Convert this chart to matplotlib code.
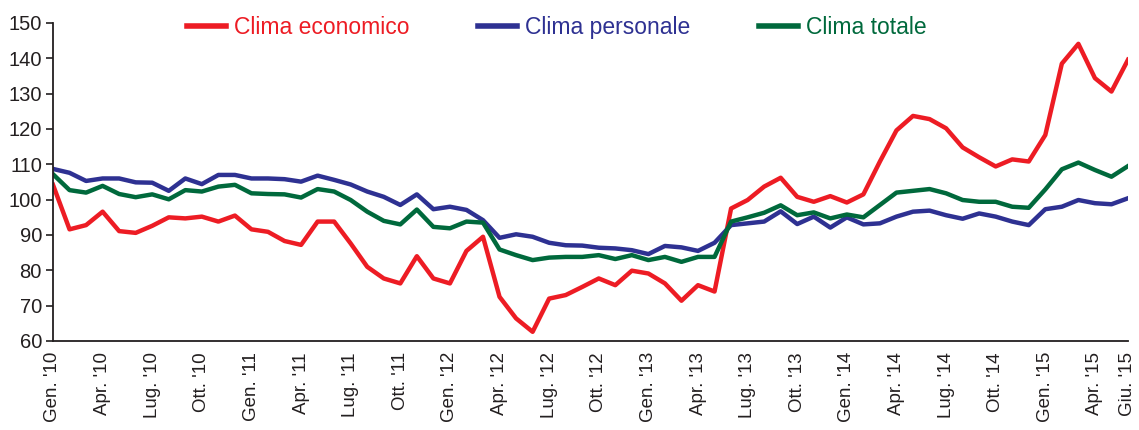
import numpy as np
import matplotlib
matplotlib.use('Agg')
import matplotlib.pyplot as plt

plt.rcParams['font.family'] = ['Liberation Sans', 'DejaVu Sans']

# Monthly index values, Gen. 2010 - Giu. 2015
clima_economico = [104.2, 91.6, 92.8, 96.6, 91.1, 90.6, 92.6, 95.0, 94.7, 95.2, 93.8, 95.5,
                   91.6, 90.9, 88.3, 87.2, 93.8, 93.8, 87.6, 81.0, 77.7, 76.3, 84.0, 77.7,
                   76.3, 85.5, 89.5, 72.5, 66.4, 62.6, 72.0, 73.0, 75.3, 77.7, 75.8, 79.9,
                   79.1, 76.3, 71.4, 75.8, 74.0, 97.5, 99.9, 103.7, 106.2, 100.8, 99.4, 101.0,
                   99.2, 101.5, 110.8, 119.6, 123.7, 122.8, 120.2, 114.8, 112.0, 109.4, 111.4, 110.8,
                   118.3, 138.5, 144.1, 134.4, 130.6, 139.6]
clima_personale = [108.7, 107.6, 105.3, 106.0, 106.0, 104.9, 104.8, 102.5, 106.0, 104.4, 107.0, 107.0,
                   106.0, 106.0, 105.8, 105.1, 106.8, 105.6, 104.3, 102.3, 100.8, 98.5, 101.5, 97.3,
                   98.0, 97.1, 94.2, 89.2, 90.2, 89.5, 87.8, 87.1, 87.0, 86.4, 86.2, 85.7,
                   84.6, 86.9, 86.5, 85.5, 87.8, 92.8, 93.3, 93.8, 96.7, 93.1, 95.2, 92.1,
                   95.0, 93.0, 93.3, 95.2, 96.6, 96.9, 95.6, 94.6, 96.1, 95.2, 93.8, 92.8,
                   97.3, 98.0, 99.9, 99.0, 98.7, 100.4]
clima_totale = [107.2, 102.7, 102.0, 103.9, 101.6, 100.7, 101.5, 100.1, 102.7, 102.3, 103.7, 104.2,
                101.8, 101.6, 101.5, 100.6, 103.0, 102.3, 99.9, 96.6, 94.0, 93.0, 97.2, 92.3,
                91.9, 93.8, 93.5, 85.9, 84.3, 82.9, 83.6, 83.8, 83.8, 84.3, 83.2, 84.3,
                82.9, 83.8, 82.4, 83.8, 83.8, 93.8, 95.0, 96.3, 98.4, 95.6, 96.4, 94.7,
                95.8, 95.0, 98.5, 102.0, 102.5, 103.0, 101.8, 99.9, 99.4, 99.4, 98.0, 97.7,
                102.9, 108.6, 110.5, 108.4, 106.5, 109.5]

tick_pos = list(range(0, 64, 3)) + [65]
tick_labels = ["Gen. '10", "Apr. '10", "Lug. '10", "Ott. '10",
               "Gen. '11", "Apr. '11", "Lug. '11", "Ott. '11",
               "Gen. '12", "Apr. '12", "Lug. '12", "Ott. '12",
               "Gen. '13", "Apr. '13", "Lug. '13", "Ott. '13",
               "Gen. '14", "Apr. '14", "Lug. '14", "Ott. '14",
               "Gen. '15", "Apr. '15", "Giu. '15"]

x = np.arange(len(clima_economico))
txt = '#231F20'

fig = plt.figure(figsize=(11.39, 4.30), dpi=100)
ax = fig.add_axes([53 / 1139, 1 - 341 / 430, (1128 - 53) / 1139, (341 - 23) / 430])

ax.plot(x, clima_economico, color='#ED1C24', lw=3.2, solid_joinstyle='round', label='Clima economico')
ax.plot(x, clima_personale, color='#2E3192', lw=3.2, solid_joinstyle='round', label='Clima personale')
ax.plot(x, clima_totale, color='#00693C', lw=3.2, solid_joinstyle='round', label='Clima totale')

ax.set_xlim(0, 65)
ax.set_ylim(60, 150)
ax.set_yticks(range(60, 151, 10))
ax.set_xticks(tick_pos)
ax.set_xticklabels(tick_labels, rotation=90)
ax.tick_params(axis='y', length=5, width=1.2, pad=3, labelsize=14.5, labelcolor=txt, color=txt)
ax.tick_params(axis='x', length=0, pad=8, labelsize=13.5, labelcolor=txt)

for s in ['top', 'right']:
    ax.spines[s].set_visible(False)
for s in ['left', 'bottom']:
    ax.spines[s].set_linewidth(1.3)
    ax.spines[s].set_color(txt)

leg = fig.legend(loc='center', bbox_to_anchor=(0.4886, 0.937), ncol=3, frameon=False,
                 fontsize=16.5, handlelength=1.7, handletextpad=0.35, columnspacing=3.0)
for t, l in zip(leg.get_texts(), leg.get_lines()):
    t.set_color(l.get_color())
    l.set_linewidth(4)

fig.savefig('out.png', dpi=100)
